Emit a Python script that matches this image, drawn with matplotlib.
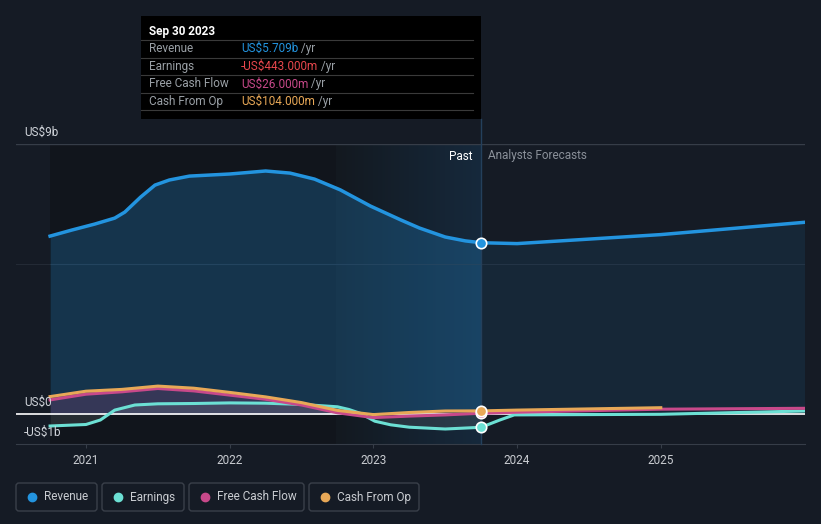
import numpy as np
import matplotlib.pyplot as plt
from matplotlib.colors import LinearSegmentedColormap
from matplotlib.patches import FancyBboxPatch, Rectangle

plt.rcParams['font.family'] = ['Roboto', 'DejaVu Sans']

# data (US$ billions, dates as decimal years)
past_dates = [2020.75, 2021.0, 2021.25, 2021.5, 2021.75, 2022.0, 2022.25,
              2022.5, 2022.75, 2023.0, 2023.25, 2023.5, 2023.75]
rev_dates = [2020.75, 2020.9, 2021.06, 2021.2, 2021.27, 2021.38, 2021.48, 2021.58,
             2021.72, 2022.0, 2022.25, 2022.42, 2022.59, 2022.77, 2022.98,
             2023.19, 2023.32, 2023.5, 2023.64, 2023.75]
revenue = [5.93, 6.13, 6.33, 6.53, 6.73, 7.23, 7.63, 7.8, 7.93, 8.0, 8.1, 8.03,
           7.83, 7.47, 6.93, 6.47, 6.2, 5.9, 5.77, 5.709]
earn_dates = [2020.75, 2021.0, 2021.1, 2021.2, 2021.34, 2021.5, 2021.75, 2022.0,
              2022.25, 2022.5, 2022.75, 2022.83, 2022.91, 2023.01, 2023.12,
              2023.25, 2023.5, 2023.75]
earnings = [-0.4, -0.35, -0.2, 0.13, 0.3, 0.34, 0.35, 0.37, 0.36, 0.32, 0.24,
            0.15, 0.02, -0.24, -0.36, -0.44, -0.5, -0.443]
fcf = [0.47, 0.66, 0.74, 0.85, 0.77, 0.63, 0.49, 0.3, 0.04, -0.12, -0.07, -0.03, 0.026]
cfo = [0.58, 0.76, 0.82, 0.93, 0.86, 0.72, 0.57, 0.38, 0.12, -0.02, 0.05, 0.1, 0.104]

fc_dates = [2023.75, 2024.0, 2025.0, 2026.0]
revenue_fc = [5.709, 5.68, 5.98, 6.39]
earn_fc_dates = [2023.75, 2023.88, 2023.98, 2025.0, 2026.0]
earnings_fc = [-0.443, -0.2, -0.03, -0.01, 0.1]
fcf_fc = [0.026, 0.06, 0.16, 0.19]
cfo_fc_dates = [2023.75, 2024.0, 2025.0]
cfo_fc = [0.104, 0.13, 0.21]

years = [2021, 2022, 2023, 2024, 2025]

BG = '#151b25'
C_REV = '#2394df'
C_EARN = '#6ce0d4'
C_FCF = '#c8498a'
C_CFO = '#e8a857'
GRID = '#363d48'
FS = 8.5


def px2t(x):
    return 2021 + (x - 86) / 143.7


W, H = 821, 524
fig = plt.figure(figsize=(W / 100, H / 100), dpi=100, facecolor=BG)
ax = fig.add_axes([16 / W, (H - 444) / H, (805 - 16) / W, 300 / H])
ax.set_facecolor(BG)

# background regions
ax.axvspan(past_dates[0], px2t(336), color='#11151c', zorder=0, lw=0)
band = LinearSegmentedColormap.from_list('band', ['#131920', '#16293c'])
ax.imshow(np.linspace(0, 1, 100).reshape(1, -1), cmap=band, aspect='auto',
          extent=[px2t(336), 2023.75, -1, 9], zorder=0.5)
ax.set_xlim(px2t(16), px2t(805))
ax.set_ylim(-1, 9)

# grid lines
ax.axhline(9, color=GRID, lw=1, zorder=1)
ax.axhline(5, color='#232a35', lw=0.8, zorder=1)

# fills
ax.fill_between(rev_dates, revenue, 0, color=C_REV, alpha=0.25, lw=0, zorder=2)
ax.fill_between(fc_dates, revenue_fc, 0, color=C_REV, alpha=0.1, lw=0, zorder=2)
ax.fill_between(past_dates, cfo, 0, color=C_FCF, alpha=0.18, lw=0, zorder=2)
ax.fill_between(earn_dates, earnings, 0, color='#a0b0b0', alpha=0.15, lw=0, zorder=2)

ax.axhline(0, color='white', lw=1.2, zorder=3)

# lines
ax.plot(rev_dates, revenue, color=C_REV, lw=2.5, zorder=5, solid_joinstyle='round')
ax.plot(fc_dates, revenue_fc, color=C_REV, lw=2.5, zorder=5, solid_joinstyle='round')
ax.plot(earn_dates, earnings, color=C_EARN, lw=2.2, zorder=4, solid_joinstyle='round')
ax.plot(earn_fc_dates, earnings_fc, color=C_EARN, lw=2.2, zorder=4, solid_joinstyle='round')
ax.plot(past_dates, fcf, color=C_FCF, lw=2.2, zorder=4, solid_joinstyle='round')
ax.plot(fc_dates, fcf_fc, color=C_FCF, lw=2.2, zorder=4, solid_joinstyle='round')
ax.plot(past_dates, cfo, color=C_CFO, lw=2.2, zorder=4.5, solid_joinstyle='round')
ax.plot(cfo_fc_dates, cfo_fc, color=C_CFO, lw=2.2, zorder=4.5, solid_joinstyle='round')

# vertical "now" line
ax.plot([2023.75, 2023.75], [-1, 9 + 25 / 30], color='#24405c', lw=1, zorder=3, clip_on=False)

# markers at latest point
for val, col in [(revenue[-1], C_REV), (earnings[-1], C_EARN), (fcf[-1], C_FCF), (cfo[-1], C_CFO)]:
    ax.plot(2023.75, val, 'o', ms=7.5, mfc=col, mec='white', mew=1.2, zorder=6)

# axes styling
for s in ['top', 'left', 'right']:
    ax.spines[s].set_visible(False)
ax.spines['bottom'].set_color(GRID)
ax.set_yticks([])
ax.set_xticks(years)
ax.set_xticklabels([str(y) for y in years])
ax.tick_params(axis='x', length=3, color=GRID, labelcolor='#c9ccd1', labelsize=FS, pad=4)

# overlay in pixel coordinates
ov = fig.add_axes([0, 0, 1, 1], zorder=10)
ov.set_xlim(0, W)
ov.set_ylim(H, 0)
ov.set_axis_off()
ov.patch.set_alpha(0)

ov.text(24, 132, 'US$9b', color='#d0d4da', fontsize=FS, va='center')
ov.text(24, 402, 'US$0', color='#d0d4da', fontsize=FS, va='center')
ov.text(24, 432, '-US$1b', color='#d0d4da', fontsize=FS, va='center')
ov.text(472, 156, 'Past', color='white', fontsize=FS, ha='right', va='center')
ov.text(488, 156, 'Analysts Forecasts', color='#8a9099', fontsize=FS, ha='left', va='center')

# tooltip
ov.add_patch(Rectangle((141, 16), 340, 103, color='black', lw=0))
ov.text(149, 31, 'Sep 30 2023', color='white', fontsize=FS, fontweight='bold', va='center')
rows = [('Revenue', 'US$5.709b', C_REV),
        ('Earnings', '-US$443.000m', '#e8474d'),
        ('Free Cash Flow', 'US$26.000m', C_FCF),
        ('Cash From Op', 'US$104.000m', C_CFO)]
for i, (lab, val, col) in enumerate(rows):
    y = 48.5 + i * 17.7
    ov.plot([141, 473], [y - 8.5, y - 8.5], color='#3a3a3a', lw=0.8)
    ov.text(149, y, lab, color='#9aa0a6', fontsize=FS, va='center')
    t = ov.text(241, y, val, color=col, fontsize=FS, va='center')
    ov.annotate(' /yr', xy=(1, 0.5), xycoords=t, color='#9aa0a6', fontsize=FS, va='center')
ov.plot([141, 473], [110, 110], color='#3a3a3a', lw=0.8)

# legend
legend_items = [('Revenue', C_REV, 16, 97), ('Earnings', C_EARN, 102, 184),
                ('Free Cash Flow', C_FCF, 189, 304), ('Cash From Op', C_CFO, 309, 419)]
for lab, col, x0, x1 in legend_items:
    ov.add_patch(FancyBboxPatch((x0, 483), x1 - x0, 28, boxstyle='round,pad=0,rounding_size=3',
                                fc='none', ec='#3a404a', lw=1))
    ov.plot(x0 + 16, 497, 'o', ms=6, color=col)
    ov.text(x0 + 28, 497, lab, color='#c9ccd1', fontsize=FS, va='center')

fig.savefig('out.png', dpi=100, facecolor=BG)
